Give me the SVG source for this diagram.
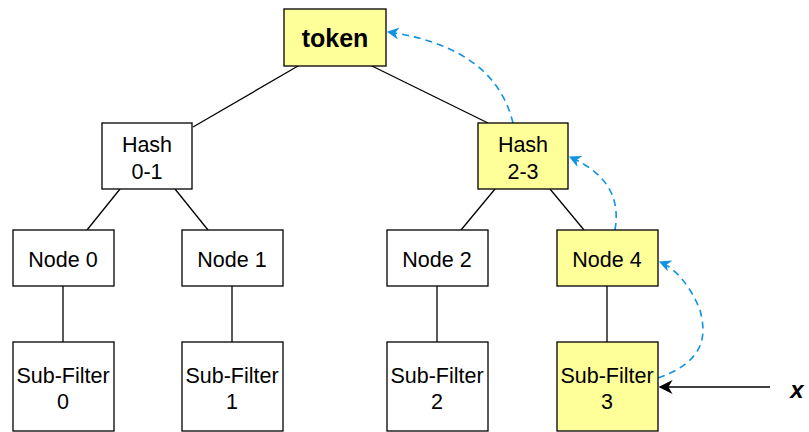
<svg xmlns="http://www.w3.org/2000/svg" width="809" height="432" viewBox="0 0 809 432">
<style>
.box{fill:#fff;stroke:#000;stroke-width:1.3}
.hl{fill:#ffff99;stroke:#000;stroke-width:1.3}
.t{font-family:"Liberation Sans",Arial,sans-serif;font-size:21.5px;text-anchor:middle;fill:#000}
.edge{stroke:#000;stroke-width:1.3;fill:none}
.blue{stroke:#1193e1;stroke-width:1.6;fill:none;stroke-dasharray:7 5}
</style>
<defs>
<marker id="ab" viewBox="0 0 10 10" refX="9" refY="5" markerWidth="12" markerHeight="12" markerUnits="userSpaceOnUse" orient="auto"><path d="M0,0 L10,5 L0,10 L3,5 Z" fill="#1193e1"/></marker>
<marker id="ak" viewBox="0 0 10 10" refX="9" refY="5" markerWidth="14" markerHeight="14" markerUnits="userSpaceOnUse" orient="auto"><path d="M0,0 L10,5 L0,10 L3,5 Z" fill="#000"/></marker>
</defs>
<g id="connectors">
<path class="edge" d="M298,66 L193,127"/>
<path class="edge" d="M372,66 L488,123"/>
<path class="edge" d="M120,189 L87,230"/>
<path class="edge" d="M175,189 L208,230"/>
<path class="edge" d="M495,189 L461,230"/>
<path class="edge" d="M550,189 L584,230"/>
<path class="edge" d="M63,286 L63,342"/>
<path class="edge" d="M232,286 L232,342"/>
<path class="edge" d="M437,286 L437,342"/>
<path class="edge" d="M607,286 L607,342"/>
<path class="blue" d="M513,123 C505,90 480,45 388,32" marker-end="url(#ab)"/>
<path class="blue" d="M615,230 C620,200 610,175 570,157" marker-end="url(#ab)"/>
<path class="blue" d="M658,378 C710,360 705,330 700,310 C690,285 675,268 660,262" marker-end="url(#ab)"/>
<path class="edge" d="M770,387 L660,387" marker-end="url(#ak)"/>
</g>
<g id="token"><rect class="hl" x="284" y="9" width="102" height="57"/><text class="t" x="335" y="47" style="font-size:25px;font-weight:bold">token</text></g>
<g id="hash01"><rect class="box" x="102" y="123" width="90" height="66"/><text class="t" x="147" y="152">Hash</text><text class="t" x="147" y="179">0-1</text></g>
<g id="hash23"><rect class="hl" x="478" y="123" width="90" height="66"/><text class="t" x="523" y="152">Hash</text><text class="t" x="523" y="179">2-3</text></g>
<g id="node0"><rect class="box" x="13" y="230" width="101" height="56"/><text class="t" x="63" y="267">Node 0</text></g>
<g id="node1"><rect class="box" x="182" y="230" width="101" height="56"/><text class="t" x="232" y="267">Node 1</text></g>
<g id="node2"><rect class="box" x="387" y="230" width="101" height="56"/><text class="t" x="437" y="267">Node 2</text></g>
<g id="node4"><rect class="hl" x="557" y="230" width="101" height="56"/><text class="t" x="607" y="267">Node 4</text></g>
<g id="sf0"><rect class="box" x="13" y="342" width="101" height="89"/><text class="t" x="63" y="383">Sub-Filter</text><text class="t" x="63" y="409">0</text></g>
<g id="sf1"><rect class="box" x="182" y="342" width="101" height="89"/><text class="t" x="232" y="383">Sub-Filter</text><text class="t" x="232" y="409">1</text></g>
<g id="sf2"><rect class="box" x="387" y="342" width="101" height="89"/><text class="t" x="437" y="383">Sub-Filter</text><text class="t" x="437" y="409">2</text></g>
<g id="sf3"><rect class="hl" x="557" y="342" width="101" height="89"/><text class="t" x="607" y="383">Sub-Filter</text><text class="t" x="607" y="409">3</text></g>
<g id="x"><text class="t" x="797" y="398" style="font-size:24px;font-weight:bold;font-style:italic">x</text></g>
</svg>
